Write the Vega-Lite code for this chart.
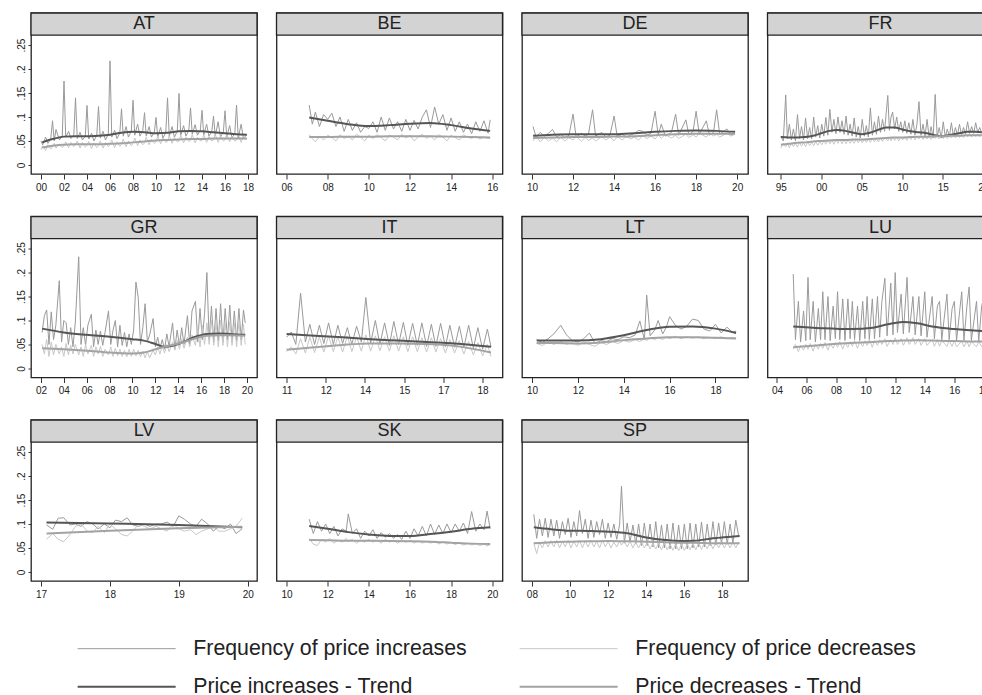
{
"$schema":"https://vega.github.io/schema/vega-lite/v6.json",
"padding":{"left":12,"top":11,"right":0,"bottom":0},
"columns":4,
"spacing":{"row":42.5,"column":19.5},
"bounds":"flush",
"resolve":{"scale":{"x":"independent","y":"independent","color":"shared","strokeWidth":"shared"}},
"config":{
 "font":"Liberation Sans",
 "view":{"stroke":"#222","strokeWidth":1.3},
 "axis":{"labelFont":"Liberation Sans","labelFontSize":10,"labelColor":"#222","tickColor":"#333","grid":false,"domain":false,"labelOverlap":false,"labelFlush":false},
 "legend":{"orient":"none","legendX":41,"legendY":625,"direction":"horizontal","columns":2,"symbolType":"M-1,0H18.6","symbolSize":100,"labelFontSize":21.3,"labelFont":"Liberation Sans","labelColor":"#222","labelLimit":0,"columnPadding":47,"rowPadding":16,"labelOffset":100,"padding":0},
 "text":{"font":"Liberation Sans","fontSize":18,"color":"#222"}
},
"datasets":{
"AT":[{"t":2000.0,"i":0.05,"d":0.032},{"t":2000.15,"i":0.042,"d":0.04},{"t":2000.4,"i":0.058,"d":0.03},{"t":2000.6,"i":0.045,"d":0.042},{"t":2000.85,"i":0.055,"d":0.033},{"t":2001.0,"i":0.092,"d":0.038},{"t":2001.15,"i":0.05,"d":0.045},{"t":2001.3,"i":0.074,"d":0.035},{"t":2001.6,"i":0.052,"d":0.044},{"t":2001.85,"i":0.06,"d":0.036},{"t":2002.0,"i":0.175,"d":0.04},{"t":2002.15,"i":0.058,"d":0.048},{"t":2002.4,"i":0.07,"d":0.036},{"t":2002.6,"i":0.055,"d":0.047},{"t":2002.85,"i":0.062,"d":0.038},{"t":2003.0,"i":0.14,"d":0.042},{"t":2003.15,"i":0.055,"d":0.05},{"t":2003.4,"i":0.068,"d":0.035},{"t":2003.6,"i":0.052,"d":0.047},{"t":2003.85,"i":0.06,"d":0.037},{"t":2004.0,"i":0.124,"d":0.041},{"t":2004.15,"i":0.054,"d":0.049},{"t":2004.4,"i":0.066,"d":0.034},{"t":2004.6,"i":0.05,"d":0.046},{"t":2004.85,"i":0.062,"d":0.036},{"t":2005.0,"i":0.122,"d":0.04},{"t":2005.15,"i":0.056,"d":0.05},{"t":2005.4,"i":0.07,"d":0.035},{"t":2005.6,"i":0.052,"d":0.047},{"t":2005.85,"i":0.064,"d":0.038},{"t":2006.0,"i":0.217,"d":0.042},{"t":2006.15,"i":0.058,"d":0.052},{"t":2006.4,"i":0.072,"d":0.036},{"t":2006.6,"i":0.055,"d":0.048},{"t":2006.85,"i":0.066,"d":0.039},{"t":2007.0,"i":0.117,"d":0.043},{"t":2007.15,"i":0.06,"d":0.054},{"t":2007.4,"i":0.08,"d":0.038},{"t":2007.6,"i":0.058,"d":0.05},{"t":2007.85,"i":0.07,"d":0.04},{"t":2008.0,"i":0.135,"d":0.045},{"t":2008.15,"i":0.062,"d":0.056},{"t":2008.4,"i":0.085,"d":0.04},{"t":2008.6,"i":0.06,"d":0.052},{"t":2008.85,"i":0.072,"d":0.042},{"t":2009.0,"i":0.109,"d":0.046},{"t":2009.15,"i":0.06,"d":0.058},{"t":2009.4,"i":0.08,"d":0.042},{"t":2009.6,"i":0.058,"d":0.054},{"t":2009.85,"i":0.068,"d":0.045},{"t":2010.0,"i":0.099,"d":0.048},{"t":2010.15,"i":0.058,"d":0.06},{"t":2010.4,"i":0.078,"d":0.044},{"t":2010.6,"i":0.056,"d":0.056},{"t":2010.85,"i":0.068,"d":0.047},{"t":2011.0,"i":0.14,"d":0.049},{"t":2011.15,"i":0.06,"d":0.061},{"t":2011.4,"i":0.08,"d":0.045},{"t":2011.6,"i":0.058,"d":0.057},{"t":2011.85,"i":0.07,"d":0.048},{"t":2012.0,"i":0.149,"d":0.05},{"t":2012.15,"i":0.062,"d":0.062},{"t":2012.4,"i":0.082,"d":0.046},{"t":2012.6,"i":0.06,"d":0.058},{"t":2012.85,"i":0.072,"d":0.049},{"t":2013.0,"i":0.119,"d":0.051},{"t":2013.15,"i":0.064,"d":0.063},{"t":2013.4,"i":0.084,"d":0.046},{"t":2013.6,"i":0.062,"d":0.058},{"t":2013.85,"i":0.072,"d":0.05},{"t":2014.0,"i":0.114,"d":0.051},{"t":2014.15,"i":0.062,"d":0.063},{"t":2014.4,"i":0.085,"d":0.047},{"t":2014.6,"i":0.06,"d":0.059},{"t":2014.85,"i":0.07,"d":0.05},{"t":2015.0,"i":0.102,"d":0.052},{"t":2015.15,"i":0.06,"d":0.064},{"t":2015.4,"i":0.09,"d":0.047},{"t":2015.6,"i":0.058,"d":0.06},{"t":2015.85,"i":0.068,"d":0.05},{"t":2016.0,"i":0.113,"d":0.052},{"t":2016.15,"i":0.058,"d":0.064},{"t":2016.4,"i":0.082,"d":0.048},{"t":2016.6,"i":0.056,"d":0.06},{"t":2016.85,"i":0.066,"d":0.05},{"t":2017.0,"i":0.125,"d":0.052},{"t":2017.15,"i":0.056,"d":0.064},{"t":2017.4,"i":0.085,"d":0.047},{"t":2017.6,"i":0.055,"d":0.06},{"t":2017.85,"i":0.062,"d":0.052}],
"AT_t":[{"t":2000.1,"ti":0.047,"td":0.036},{"t":2001,"ti":0.054,"td":0.04},{"t":2002,"ti":0.059,"td":0.042},{"t":2003,"ti":0.06,"td":0.043},{"t":2004,"ti":0.06,"td":0.043},{"t":2005,"ti":0.061,"td":0.043},{"t":2006,"ti":0.063,"td":0.044},{"t":2007,"ti":0.067,"td":0.045},{"t":2008,"ti":0.069,"td":0.047},{"t":2009,"ti":0.068,"td":0.049},{"t":2010,"ti":0.066,"td":0.051},{"t":2011,"ti":0.067,"td":0.052},{"t":2012,"ti":0.07,"td":0.053},{"t":2013,"ti":0.071,"td":0.054},{"t":2014,"ti":0.07,"td":0.054},{"t":2015,"ti":0.068,"td":0.055},{"t":2016,"ti":0.066,"td":0.055},{"t":2017,"ti":0.064,"td":0.055},{"t":2017.9,"ti":0.063,"td":0.055}],
"BE":[{"t":2007.1,"i":0.125,"d":0.063},{"t":2007.25,"i":0.085,"d":0.055},{"t":2007.4,"i":0.11,"d":0.048},{"t":2007.6,"i":0.08,"d":0.06},{"t":2007.8,"i":0.105,"d":0.052},{"t":2008.0,"i":0.095,"d":0.062},{"t":2008.2,"i":0.108,"d":0.057},{"t":2008.4,"i":0.08,"d":0.05},{"t":2008.6,"i":0.1,"d":0.063},{"t":2008.8,"i":0.07,"d":0.055},{"t":2009.0,"i":0.095,"d":0.06},{"t":2009.2,"i":0.072,"d":0.052},{"t":2009.4,"i":0.088,"d":0.064},{"t":2009.6,"i":0.068,"d":0.058},{"t":2009.8,"i":0.08,"d":0.05},{"t":2010.0,"i":0.076,"d":0.062},{"t":2010.2,"i":0.09,"d":0.055},{"t":2010.4,"i":0.068,"d":0.063},{"t":2010.6,"i":0.1,"d":0.057},{"t":2010.8,"i":0.072,"d":0.05},{"t":2011.0,"i":0.098,"d":0.062},{"t":2011.2,"i":0.075,"d":0.058},{"t":2011.4,"i":0.09,"d":0.052},{"t":2011.6,"i":0.07,"d":0.064},{"t":2011.8,"i":0.095,"d":0.056},{"t":2012.0,"i":0.072,"d":0.062},{"t":2012.2,"i":0.093,"d":0.05},{"t":2012.4,"i":0.075,"d":0.058},{"t":2012.6,"i":0.1,"d":0.064},{"t":2012.8,"i":0.115,"d":0.055},{"t":2013.0,"i":0.078,"d":0.06},{"t":2013.2,"i":0.121,"d":0.052},{"t":2013.4,"i":0.085,"d":0.063},{"t":2013.6,"i":0.105,"d":0.058},{"t":2013.8,"i":0.072,"d":0.05},{"t":2014.0,"i":0.098,"d":0.062},{"t":2014.2,"i":0.07,"d":0.057},{"t":2014.4,"i":0.09,"d":0.052},{"t":2014.6,"i":0.068,"d":0.063},{"t":2014.8,"i":0.085,"d":0.058},{"t":2015.0,"i":0.065,"d":0.055},{"t":2015.2,"i":0.09,"d":0.06},{"t":2015.4,"i":0.07,"d":0.054},{"t":2015.6,"i":0.092,"d":0.058},{"t":2015.8,"i":0.066,"d":0.055},{"t":2015.9,"i":0.094,"d":0.056}],
"BE_t":[{"t":2007.1,"ti":0.099,"td":0.058},{"t":2008,"ti":0.092,"td":0.058},{"t":2009,"ti":0.085,"td":0.059},{"t":2010,"ti":0.081,"td":0.059},{"t":2011,"ti":0.083,"td":0.06},{"t":2012,"ti":0.086,"td":0.06},{"t":2013,"ti":0.0875,"td":0.06},{"t":2014,"ti":0.083,"td":0.059},{"t":2015,"ti":0.076,"td":0.058},{"t":2015.9,"ti":0.071,"td":0.057}],
"DE":[{"t":2010.05,"i":0.08,"d":0.05},{"t":2010.2,"i":0.058,"d":0.06},{"t":2010.4,"i":0.068,"d":0.048},{"t":2010.6,"i":0.06,"d":0.058},{"t":2010.8,"i":0.066,"d":0.05},{"t":2011.0,"i":0.074,"d":0.056},{"t":2011.2,"i":0.058,"d":0.048},{"t":2011.4,"i":0.064,"d":0.058},{"t":2011.6,"i":0.056,"d":0.05},{"t":2011.8,"i":0.062,"d":0.057},{"t":2012.0,"i":0.106,"d":0.052},{"t":2012.15,"i":0.058,"d":0.06},{"t":2012.4,"i":0.066,"d":0.049},{"t":2012.6,"i":0.06,"d":0.058},{"t":2012.75,"i":0.064,"d":0.051},{"t":2012.95,"i":0.115,"d":0.056},{"t":2013.1,"i":0.06,"d":0.05},{"t":2013.4,"i":0.068,"d":0.059},{"t":2013.6,"i":0.058,"d":0.052},{"t":2013.8,"i":0.062,"d":0.058},{"t":2014.0,"i":0.102,"d":0.05},{"t":2014.15,"i":0.06,"d":0.059},{"t":2014.4,"i":0.064,"d":0.052},{"t":2014.6,"i":0.058,"d":0.06},{"t":2014.8,"i":0.062,"d":0.054},{"t":2015.0,"i":0.066,"d":0.058},{"t":2015.2,"i":0.072,"d":0.052},{"t":2015.4,"i":0.07,"d":0.061},{"t":2015.6,"i":0.062,"d":0.055},{"t":2015.8,"i":0.066,"d":0.06},{"t":2016.0,"i":0.112,"d":0.054},{"t":2016.15,"i":0.062,"d":0.062},{"t":2016.3,"i":0.085,"d":0.056},{"t":2016.5,"i":0.06,"d":0.063},{"t":2016.8,"i":0.068,"d":0.056},{"t":2017.0,"i":0.106,"d":0.062},{"t":2017.15,"i":0.062,"d":0.055},{"t":2017.5,"i":0.094,"d":0.064},{"t":2017.65,"i":0.062,"d":0.057},{"t":2017.85,"i":0.07,"d":0.063},{"t":2018.0,"i":0.112,"d":0.058},{"t":2018.15,"i":0.064,"d":0.066},{"t":2018.5,"i":0.092,"d":0.058},{"t":2018.65,"i":0.062,"d":0.066},{"t":2018.85,"i":0.068,"d":0.06},{"t":2019.0,"i":0.115,"d":0.064},{"t":2019.15,"i":0.064,"d":0.058},{"t":2019.5,"i":0.075,"d":0.066},{"t":2019.7,"i":0.062,"d":0.06},{"t":2019.9,"i":0.068,"d":0.064}],
"DE_t":[{"t":2010.05,"ti":0.061,"td":0.056},{"t":2011,"ti":0.063,"td":0.057},{"t":2012,"ti":0.064,"td":0.058},{"t":2013,"ti":0.064,"td":0.058},{"t":2014,"ti":0.064,"td":0.059},{"t":2015,"ti":0.066,"td":0.06},{"t":2016,"ti":0.069,"td":0.062},{"t":2017,"ti":0.071,"td":0.064},{"t":2018,"ti":0.072,"td":0.065},{"t":2019,"ti":0.071,"td":0.065},{"t":2019.9,"ti":0.069,"td":0.065}],
"FR":[{"t":1995.0,"i":0.06,"d":0.035},{"t":1995.3,"i":0.05,"d":0.045},{"t":1995.6,"i":0.146,"d":0.038},{"t":1995.8,"i":0.055,"d":0.046},{"t":1996.05,"i":0.085,"d":0.036},{"t":1996.3,"i":0.052,"d":0.046},{"t":1996.55,"i":0.075,"d":0.038},{"t":1996.8,"i":0.05,"d":0.045},{"t":1997.05,"i":0.105,"d":0.037},{"t":1997.3,"i":0.055,"d":0.047},{"t":1997.55,"i":0.08,"d":0.039},{"t":1997.8,"i":0.052,"d":0.046},{"t":1998.05,"i":0.098,"d":0.038},{"t":1998.3,"i":0.055,"d":0.048},{"t":1998.55,"i":0.078,"d":0.04},{"t":1998.8,"i":0.054,"d":0.047},{"t":1999.05,"i":0.1,"d":0.04},{"t":1999.3,"i":0.058,"d":0.049},{"t":1999.55,"i":0.082,"d":0.041},{"t":1999.8,"i":0.056,"d":0.048},{"t":2000.05,"i":0.085,"d":0.042},{"t":2000.3,"i":0.06,"d":0.05},{"t":2000.55,"i":0.099,"d":0.043},{"t":2000.8,"i":0.062,"d":0.052},{"t":2001.05,"i":0.116,"d":0.044},{"t":2001.3,"i":0.068,"d":0.052},{"t":2001.55,"i":0.095,"d":0.043},{"t":2001.8,"i":0.065,"d":0.053},{"t":2002.05,"i":0.1,"d":0.045},{"t":2002.3,"i":0.068,"d":0.054},{"t":2002.55,"i":0.092,"d":0.044},{"t":2002.8,"i":0.064,"d":0.052},{"t":2003.05,"i":0.102,"d":0.044},{"t":2003.3,"i":0.062,"d":0.053},{"t":2003.55,"i":0.085,"d":0.045},{"t":2003.8,"i":0.06,"d":0.052},{"t":2004.05,"i":0.098,"d":0.045},{"t":2004.3,"i":0.058,"d":0.054},{"t":2004.55,"i":0.08,"d":0.046},{"t":2004.8,"i":0.056,"d":0.053},{"t":2005.05,"i":0.095,"d":0.046},{"t":2005.3,"i":0.06,"d":0.055},{"t":2005.55,"i":0.082,"d":0.047},{"t":2005.8,"i":0.058,"d":0.054},{"t":2006.05,"i":0.119,"d":0.047},{"t":2006.3,"i":0.062,"d":0.056},{"t":2006.55,"i":0.09,"d":0.048},{"t":2006.8,"i":0.064,"d":0.055},{"t":2007.05,"i":0.102,"d":0.048},{"t":2007.3,"i":0.068,"d":0.057},{"t":2007.55,"i":0.095,"d":0.049},{"t":2007.8,"i":0.07,"d":0.058},{"t":2008.2,"i":0.145,"d":0.05},{"t":2008.4,"i":0.072,"d":0.058},{"t":2008.6,"i":0.1,"d":0.05},{"t":2008.8,"i":0.11,"d":0.059},{"t":2009.05,"i":0.075,"d":0.051},{"t":2009.3,"i":0.1,"d":0.058},{"t":2009.55,"i":0.07,"d":0.05},{"t":2009.8,"i":0.09,"d":0.058},{"t":2010.05,"i":0.068,"d":0.052},{"t":2010.3,"i":0.092,"d":0.059},{"t":2010.55,"i":0.066,"d":0.051},{"t":2010.8,"i":0.088,"d":0.06},{"t":2011.05,"i":0.064,"d":0.053},{"t":2011.3,"i":0.095,"d":0.06},{"t":2011.55,"i":0.062,"d":0.052},{"t":2011.8,"i":0.085,"d":0.06},{"t":2012.05,"i":0.132,"d":0.054},{"t":2012.3,"i":0.062,"d":0.061},{"t":2012.55,"i":0.085,"d":0.053},{"t":2012.8,"i":0.06,"d":0.06},{"t":2013.05,"i":0.095,"d":0.054},{"t":2013.3,"i":0.058,"d":0.061},{"t":2013.55,"i":0.08,"d":0.053},{"t":2013.8,"i":0.056,"d":0.06},{"t":2014.05,"i":0.147,"d":0.055},{"t":2014.3,"i":0.058,"d":0.062},{"t":2014.55,"i":0.078,"d":0.054},{"t":2014.8,"i":0.056,"d":0.061},{"t":2015.05,"i":0.09,"d":0.055},{"t":2015.3,"i":0.058,"d":0.062},{"t":2015.55,"i":0.075,"d":0.055},{"t":2015.8,"i":0.058,"d":0.062},{"t":2016.05,"i":0.088,"d":0.056},{"t":2016.3,"i":0.06,"d":0.063},{"t":2016.55,"i":0.078,"d":0.056},{"t":2016.8,"i":0.062,"d":0.063},{"t":2017.05,"i":0.085,"d":0.057},{"t":2017.3,"i":0.062,"d":0.064},{"t":2017.55,"i":0.078,"d":0.057},{"t":2017.8,"i":0.064,"d":0.064},{"t":2018.05,"i":0.09,"d":0.058},{"t":2018.3,"i":0.066,"d":0.065},{"t":2018.55,"i":0.08,"d":0.058},{"t":2018.8,"i":0.066,"d":0.065},{"t":2019.05,"i":0.088,"d":0.059},{"t":2019.3,"i":0.068,"d":0.065},{"t":2019.55,"i":0.078,"d":0.059},{"t":2019.8,"i":0.066,"d":0.064}],
"FR_t":[{"t":1995,"ti":0.058,"td":0.042},{"t":1996,"ti":0.057,"td":0.044},{"t":1997,"ti":0.057,"td":0.046},{"t":1998,"ti":0.058,"td":0.047},{"t":1999,"ti":0.061,"td":0.049},{"t":2000,"ti":0.066,"td":0.05},{"t":2001,"ti":0.071,"td":0.051},{"t":2002,"ti":0.073,"td":0.052},{"t":2003,"ti":0.071,"td":0.052},{"t":2004,"ti":0.067,"td":0.053},{"t":2005,"ti":0.064,"td":0.053},{"t":2006,"ti":0.067,"td":0.054},{"t":2007,"ti":0.073,"td":0.055},{"t":2008,"ti":0.078,"td":0.056},{"t":2009,"ti":0.078,"td":0.057},{"t":2010,"ti":0.074,"td":0.057},{"t":2011,"ti":0.07,"td":0.058},{"t":2012,"ti":0.068,"td":0.059},{"t":2013,"ti":0.066,"td":0.059},{"t":2014,"ti":0.062,"td":0.06},{"t":2015,"ti":0.06,"td":0.06},{"t":2016,"ti":0.063,"td":0.061},{"t":2017,"ti":0.066,"td":0.061},{"t":2018,"ti":0.069,"td":0.062},{"t":2019,"ti":0.069,"td":0.062},{"t":2019.8,"ti":0.068,"td":0.062}],
"GR":[{"t":2002.1,"i":0.075,"d":0.05},{"t":2002.3,"i":0.11,"d":0.03},{"t":2002.5,"i":0.122,"d":0.06},{"t":2002.7,"i":0.05,"d":0.025},{"t":2002.9,"i":0.118,"d":0.055},{"t":2003.1,"i":0.06,"d":0.028},{"t":2003.3,"i":0.09,"d":0.05},{"t":2003.6,"i":0.183,"d":0.03},{"t":2003.8,"i":0.055,"d":0.045},{"t":2004.0,"i":0.1,"d":0.025},{"t":2004.2,"i":0.095,"d":0.052},{"t":2004.4,"i":0.05,"d":0.028},{"t":2004.6,"i":0.085,"d":0.048},{"t":2004.8,"i":0.045,"d":0.03},{"t":2005.0,"i":0.095,"d":0.05},{"t":2005.3,"i":0.233,"d":0.028},{"t":2005.5,"i":0.05,"d":0.045},{"t":2005.7,"i":0.085,"d":0.025},{"t":2005.9,"i":0.048,"d":0.05},{"t":2006.1,"i":0.09,"d":0.03},{"t":2006.4,"i":0.113,"d":0.048},{"t":2006.6,"i":0.045,"d":0.025},{"t":2006.8,"i":0.08,"d":0.045},{"t":2007.0,"i":0.05,"d":0.03},{"t":2007.2,"i":0.078,"d":0.046},{"t":2007.4,"i":0.048,"d":0.025},{"t":2007.6,"i":0.075,"d":0.04},{"t":2007.9,"i":0.12,"d":0.028},{"t":2008.1,"i":0.05,"d":0.045},{"t":2008.3,"i":0.08,"d":0.025},{"t":2008.5,"i":0.1,"d":0.042},{"t":2008.7,"i":0.045,"d":0.026},{"t":2008.9,"i":0.09,"d":0.04},{"t":2009.1,"i":0.048,"d":0.025},{"t":2009.3,"i":0.075,"d":0.038},{"t":2009.5,"i":0.045,"d":0.024},{"t":2009.7,"i":0.072,"d":0.04},{"t":2009.9,"i":0.05,"d":0.025},{"t":2010.1,"i":0.08,"d":0.04},{"t":2010.3,"i":0.18,"d":0.026},{"t":2010.5,"i":0.148,"d":0.038},{"t":2010.7,"i":0.05,"d":0.024},{"t":2010.9,"i":0.085,"d":0.036},{"t":2011.1,"i":0.135,"d":0.022},{"t":2011.3,"i":0.055,"d":0.035},{"t":2011.5,"i":0.07,"d":0.022},{"t":2011.8,"i":0.104,"d":0.038},{"t":2012.0,"i":0.045,"d":0.028},{"t":2012.2,"i":0.065,"d":0.045},{"t":2012.4,"i":0.042,"d":0.03},{"t":2012.6,"i":0.06,"d":0.048},{"t":2012.8,"i":0.04,"d":0.032},{"t":2013.0,"i":0.072,"d":0.05},{"t":2013.2,"i":0.045,"d":0.035},{"t":2013.5,"i":0.095,"d":0.055},{"t":2013.7,"i":0.04,"d":0.038},{"t":2013.9,"i":0.08,"d":0.058},{"t":2014.1,"i":0.048,"d":0.04},{"t":2014.3,"i":0.085,"d":0.062},{"t":2014.5,"i":0.05,"d":0.042},{"t":2014.8,"i":0.11,"d":0.065},{"t":2015.0,"i":0.05,"d":0.045},{"t":2015.2,"i":0.12,"d":0.07},{"t":2015.5,"i":0.14,"d":0.048},{"t":2015.7,"i":0.055,"d":0.085},{"t":2015.9,"i":0.125,"d":0.045},{"t":2016.1,"i":0.06,"d":0.09},{"t":2016.3,"i":0.115,"d":0.05},{"t":2016.5,"i":0.2,"d":0.095},{"t":2016.7,"i":0.06,"d":0.05},{"t":2016.9,"i":0.13,"d":0.1},{"t":2017.1,"i":0.055,"d":0.048},{"t":2017.3,"i":0.125,"d":0.095},{"t":2017.5,"i":0.058,"d":0.045},{"t":2017.7,"i":0.135,"d":0.1},{"t":2017.9,"i":0.055,"d":0.048},{"t":2018.1,"i":0.125,"d":0.095},{"t":2018.3,"i":0.06,"d":0.045},{"t":2018.5,"i":0.132,"d":0.098},{"t":2018.7,"i":0.055,"d":0.048},{"t":2018.9,"i":0.12,"d":0.095},{"t":2019.1,"i":0.058,"d":0.045},{"t":2019.3,"i":0.125,"d":0.098},{"t":2019.5,"i":0.06,"d":0.048},{"t":2019.7,"i":0.122,"d":0.092},{"t":2019.85,"i":0.095,"d":0.05}],
"GR_t":[{"t":2002.1,"ti":0.083,"td":0.042},{"t":2004,"ti":0.075,"td":0.04},{"t":2006,"ti":0.07,"td":0.037},{"t":2008,"ti":0.066,"td":0.033},{"t":2010,"ti":0.061,"td":0.031},{"t":2011,"ti":0.058,"td":0.033},{"t":2012,"ti":0.051,"td":0.04},{"t":2012.8,"ti":0.045,"td":0.045},{"t":2013.5,"ti":0.047,"td":0.049},{"t":2014.5,"ti":0.056,"td":0.055},{"t":2015.5,"ti":0.066,"td":0.063},{"t":2016.5,"ti":0.072,"td":0.068},{"t":2017.5,"ti":0.073,"td":0.069},{"t":2018.5,"ti":0.072,"td":0.069},{"t":2019.85,"ti":0.07,"td":0.068}],
"IT":[{"t":2011.0,"i":0.065,"d":0.035},{"t":2011.17,"i":0.076,"d":0.045},{"t":2011.33,"i":0.05,"d":0.03},{"t":2011.5,"i":0.157,"d":0.062},{"t":2011.67,"i":0.055,"d":0.032},{"t":2011.83,"i":0.092,"d":0.065},{"t":2012.0,"i":0.05,"d":0.033},{"t":2012.17,"i":0.09,"d":0.066},{"t":2012.33,"i":0.052,"d":0.034},{"t":2012.5,"i":0.095,"d":0.068},{"t":2012.67,"i":0.05,"d":0.035},{"t":2012.83,"i":0.09,"d":0.066},{"t":2013.0,"i":0.052,"d":0.034},{"t":2013.17,"i":0.085,"d":0.068},{"t":2013.33,"i":0.05,"d":0.035},{"t":2013.5,"i":0.088,"d":0.066},{"t":2013.67,"i":0.055,"d":0.036},{"t":2013.83,"i":0.148,"d":0.07},{"t":2014.0,"i":0.052,"d":0.036},{"t":2014.17,"i":0.1,"d":0.068},{"t":2014.33,"i":0.05,"d":0.037},{"t":2014.5,"i":0.095,"d":0.066},{"t":2014.67,"i":0.048,"d":0.036},{"t":2014.83,"i":0.098,"d":0.068},{"t":2015.0,"i":0.05,"d":0.036},{"t":2015.17,"i":0.096,"d":0.066},{"t":2015.33,"i":0.048,"d":0.035},{"t":2015.5,"i":0.094,"d":0.066},{"t":2015.67,"i":0.048,"d":0.035},{"t":2015.83,"i":0.095,"d":0.064},{"t":2016.0,"i":0.046,"d":0.034},{"t":2016.17,"i":0.092,"d":0.064},{"t":2016.33,"i":0.046,"d":0.034},{"t":2016.5,"i":0.094,"d":0.062},{"t":2016.67,"i":0.045,"d":0.032},{"t":2016.83,"i":0.09,"d":0.06},{"t":2017.0,"i":0.044,"d":0.032},{"t":2017.17,"i":0.088,"d":0.058},{"t":2017.33,"i":0.043,"d":0.03},{"t":2017.5,"i":0.09,"d":0.056},{"t":2017.67,"i":0.042,"d":0.028},{"t":2017.83,"i":0.085,"d":0.054},{"t":2018.0,"i":0.04,"d":0.026},{"t":2018.17,"i":0.082,"d":0.05},{"t":2018.3,"i":0.045,"d":0.025}],
"IT_t":[{"t":2011,"ti":0.072,"td":0.039},{"t":2012,"ti":0.068,"td":0.044},{"t":2013,"ti":0.065,"td":0.049},{"t":2014,"ti":0.061,"td":0.052},{"t":2015,"ti":0.058,"td":0.052},{"t":2016,"ti":0.055,"td":0.051},{"t":2017,"ti":0.052,"td":0.047},{"t":2018.3,"ti":0.045,"td":0.033}],
"LT":[{"t":2010.2,"i":0.06,"d":0.052},{"t":2010.45,"i":0.054,"d":0.048},{"t":2010.7,"i":0.062,"d":0.055},{"t":2010.95,"i":0.072,"d":0.05},{"t":2011.25,"i":0.09,"d":0.056},{"t":2011.5,"i":0.07,"d":0.05},{"t":2011.75,"i":0.058,"d":0.054},{"t":2012.0,"i":0.055,"d":0.048},{"t":2012.25,"i":0.062,"d":0.055},{"t":2012.5,"i":0.074,"d":0.05},{"t":2012.75,"i":0.052,"d":0.046},{"t":2013.0,"i":0.058,"d":0.054},{"t":2013.25,"i":0.056,"d":0.05},{"t":2013.5,"i":0.062,"d":0.056},{"t":2013.75,"i":0.06,"d":0.052},{"t":2014.0,"i":0.066,"d":0.058},{"t":2014.25,"i":0.064,"d":0.055},{"t":2014.5,"i":0.07,"d":0.06},{"t":2014.7,"i":0.099,"d":0.056},{"t":2014.9,"i":0.06,"d":0.062},{"t":2015.0,"i":0.153,"d":0.058},{"t":2015.15,"i":0.068,"d":0.064},{"t":2015.35,"i":0.08,"d":0.06},{"t":2015.5,"i":0.1,"d":0.065},{"t":2015.7,"i":0.072,"d":0.06},{"t":2015.85,"i":0.085,"d":0.066},{"t":2016.0,"i":0.108,"d":0.062},{"t":2016.25,"i":0.09,"d":0.067},{"t":2016.5,"i":0.082,"d":0.062},{"t":2016.75,"i":0.088,"d":0.066},{"t":2017.0,"i":0.103,"d":0.063},{"t":2017.25,"i":0.1,"d":0.066},{"t":2017.5,"i":0.082,"d":0.062},{"t":2017.75,"i":0.078,"d":0.065},{"t":2018.0,"i":0.092,"d":0.062},{"t":2018.25,"i":0.074,"d":0.066},{"t":2018.5,"i":0.086,"d":0.062},{"t":2018.75,"i":0.075,"d":0.065},{"t":2018.9,"i":0.078,"d":0.063}],
"LT_t":[{"t":2010.2,"ti":0.058,"td":0.053},{"t":2011,"ti":0.058,"td":0.053},{"t":2012,"ti":0.058,"td":0.052},{"t":2013,"ti":0.061,"td":0.054},{"t":2014,"ti":0.069,"td":0.059},{"t":2015,"ti":0.08,"td":0.0625},{"t":2016,"ti":0.087,"td":0.065},{"t":2017,"ti":0.0875,"td":0.065},{"t":2018,"ti":0.083,"td":0.064},{"t":2018.9,"ti":0.074,"td":0.0625}],
"LU":[{"t":2005.1,"i":0.197,"d":0.04},{"t":2005.25,"i":0.06,"d":0.05},{"t":2005.45,"i":0.14,"d":0.035},{"t":2005.6,"i":0.055,"d":0.048},{"t":2005.8,"i":0.12,"d":0.038},{"t":2005.95,"i":0.058,"d":0.05},{"t":2006.1,"i":0.19,"d":0.04},{"t":2006.25,"i":0.06,"d":0.052},{"t":2006.45,"i":0.14,"d":0.036},{"t":2006.6,"i":0.055,"d":0.05},{"t":2006.8,"i":0.125,"d":0.04},{"t":2006.95,"i":0.06,"d":0.052},{"t":2007.1,"i":0.16,"d":0.042},{"t":2007.25,"i":0.06,"d":0.054},{"t":2007.45,"i":0.15,"d":0.038},{"t":2007.6,"i":0.058,"d":0.052},{"t":2007.8,"i":0.13,"d":0.042},{"t":2007.95,"i":0.062,"d":0.054},{"t":2008.1,"i":0.16,"d":0.044},{"t":2008.25,"i":0.06,"d":0.056},{"t":2008.45,"i":0.145,"d":0.04},{"t":2008.6,"i":0.058,"d":0.054},{"t":2008.8,"i":0.145,"d":0.044},{"t":2008.95,"i":0.062,"d":0.056},{"t":2009.1,"i":0.14,"d":0.046},{"t":2009.25,"i":0.06,"d":0.058},{"t":2009.45,"i":0.13,"d":0.042},{"t":2009.6,"i":0.058,"d":0.056},{"t":2009.8,"i":0.14,"d":0.046},{"t":2009.95,"i":0.062,"d":0.058},{"t":2010.1,"i":0.15,"d":0.048},{"t":2010.25,"i":0.06,"d":0.06},{"t":2010.45,"i":0.145,"d":0.044},{"t":2010.6,"i":0.062,"d":0.058},{"t":2010.8,"i":0.15,"d":0.048},{"t":2010.95,"i":0.065,"d":0.06},{"t":2011.1,"i":0.14,"d":0.05},{"t":2011.3,"i":0.188,"d":0.062},{"t":2011.45,"i":0.068,"d":0.046},{"t":2011.7,"i":0.178,"d":0.06},{"t":2011.85,"i":0.07,"d":0.05},{"t":2012.0,"i":0.2,"d":0.064},{"t":2012.15,"i":0.075,"d":0.05},{"t":2012.4,"i":0.155,"d":0.062},{"t":2012.55,"i":0.072,"d":0.048},{"t":2012.8,"i":0.19,"d":0.064},{"t":2012.95,"i":0.075,"d":0.05},{"t":2013.2,"i":0.15,"d":0.064},{"t":2013.35,"i":0.07,"d":0.05},{"t":2013.6,"i":0.15,"d":0.062},{"t":2013.75,"i":0.068,"d":0.048},{"t":2014.0,"i":0.16,"d":0.062},{"t":2014.15,"i":0.065,"d":0.048},{"t":2014.5,"i":0.15,"d":0.06},{"t":2014.65,"i":0.062,"d":0.046},{"t":2014.85,"i":0.13,"d":0.06},{"t":2015.0,"i":0.14,"d":0.046},{"t":2015.15,"i":0.06,"d":0.058},{"t":2015.5,"i":0.155,"d":0.046},{"t":2015.65,"i":0.06,"d":0.058},{"t":2015.85,"i":0.125,"d":0.046},{"t":2016.0,"i":0.14,"d":0.058},{"t":2016.15,"i":0.058,"d":0.045},{"t":2016.5,"i":0.16,"d":0.057},{"t":2016.65,"i":0.058,"d":0.045},{"t":2016.85,"i":0.13,"d":0.057},{"t":2017.0,"i":0.17,"d":0.045},{"t":2017.15,"i":0.058,"d":0.056},{"t":2017.5,"i":0.14,"d":0.045},{"t":2017.65,"i":0.056,"d":0.056},{"t":2017.85,"i":0.13,"d":0.045},{"t":2018.0,"i":0.15,"d":0.056},{"t":2018.15,"i":0.056,"d":0.045},{"t":2018.5,"i":0.14,"d":0.056},{"t":2018.65,"i":0.058,"d":0.045},{"t":2018.9,"i":0.15,"d":0.055}],
"LU_t":[{"t":2005.1,"ti":0.0875,"td":0.044},{"t":2007,"ti":0.084,"td":0.049},{"t":2009,"ti":0.082,"td":0.053},{"t":2010.5,"ti":0.085,"td":0.055},{"t":2011.5,"ti":0.092,"td":0.057},{"t":2012.5,"ti":0.097,"td":0.058},{"t":2013.5,"ti":0.094,"td":0.059},{"t":2014.5,"ti":0.0875,"td":0.058},{"t":2016,"ti":0.082,"td":0.057},{"t":2018,"ti":0.078,"td":0.056},{"t":2018.9,"ti":0.077,"td":0.056}],
"LV":[{"t":2017.08,"i":0.098,"d":0.068},{"t":2017.17,"i":0.089,"d":0.08},{"t":2017.25,"i":0.112,"d":0.068},{"t":2017.33,"i":0.113,"d":0.063},{"t":2017.42,"i":0.098,"d":0.078},{"t":2017.5,"i":0.1,"d":0.095},{"t":2017.58,"i":0.095,"d":0.1},{"t":2017.67,"i":0.105,"d":0.085},{"t":2017.75,"i":0.1,"d":0.082},{"t":2017.83,"i":0.09,"d":0.095},{"t":2017.92,"i":0.1,"d":0.082},{"t":2018.0,"i":0.092,"d":0.1},{"t":2018.08,"i":0.108,"d":0.09},{"t":2018.17,"i":0.105,"d":0.078},{"t":2018.25,"i":0.113,"d":0.075},{"t":2018.33,"i":0.098,"d":0.085},{"t":2018.42,"i":0.095,"d":0.1},{"t":2018.5,"i":0.1,"d":0.095},{"t":2018.58,"i":0.095,"d":0.09},{"t":2018.67,"i":0.1,"d":0.095},{"t":2018.75,"i":0.1,"d":0.09},{"t":2018.83,"i":0.104,"d":0.085},{"t":2018.92,"i":0.095,"d":0.1},{"t":2019.0,"i":0.117,"d":0.09},{"t":2019.08,"i":0.11,"d":0.085},{"t":2019.17,"i":0.1,"d":0.088},{"t":2019.25,"i":0.095,"d":0.078},{"t":2019.33,"i":0.11,"d":0.085},{"t":2019.42,"i":0.1,"d":0.09},{"t":2019.5,"i":0.085,"d":0.095},{"t":2019.58,"i":0.095,"d":0.085},{"t":2019.67,"i":0.09,"d":0.085},{"t":2019.75,"i":0.1,"d":0.09},{"t":2019.83,"i":0.08,"d":0.095},{"t":2019.92,"i":0.09,"d":0.112}],
"LV_t":[{"t":2017.08,"ti":0.103,"td":0.08},{"t":2018,"ti":0.101,"td":0.086},{"t":2019,"ti":0.098,"td":0.091},{"t":2019.92,"ti":0.093,"td":0.094}],
"SK":[{"t":2011.1,"i":0.11,"d":0.07},{"t":2011.3,"i":0.08,"d":0.058},{"t":2011.5,"i":0.105,"d":0.055},{"t":2011.7,"i":0.085,"d":0.068},{"t":2011.9,"i":0.1,"d":0.062},{"t":2012.1,"i":0.08,"d":0.07},{"t":2012.3,"i":0.095,"d":0.06},{"t":2012.5,"i":0.075,"d":0.066},{"t":2012.7,"i":0.09,"d":0.062},{"t":2012.9,"i":0.085,"d":0.07},{"t":2013.0,"i":0.121,"d":0.064},{"t":2013.2,"i":0.08,"d":0.068},{"t":2013.4,"i":0.09,"d":0.06},{"t":2013.6,"i":0.07,"d":0.066},{"t":2013.8,"i":0.085,"d":0.062},{"t":2014.0,"i":0.075,"d":0.068},{"t":2014.2,"i":0.088,"d":0.062},{"t":2014.4,"i":0.07,"d":0.066},{"t":2014.6,"i":0.082,"d":0.06},{"t":2014.8,"i":0.072,"d":0.068},{"t":2015.0,"i":0.08,"d":0.062},{"t":2015.2,"i":0.07,"d":0.066},{"t":2015.4,"i":0.078,"d":0.06},{"t":2015.6,"i":0.068,"d":0.066},{"t":2015.8,"i":0.085,"d":0.062},{"t":2016.0,"i":0.07,"d":0.066},{"t":2016.2,"i":0.09,"d":0.06},{"t":2016.4,"i":0.075,"d":0.065},{"t":2016.6,"i":0.095,"d":0.06},{"t":2016.8,"i":0.075,"d":0.064},{"t":2017.0,"i":0.1,"d":0.06},{"t":2017.2,"i":0.078,"d":0.064},{"t":2017.4,"i":0.098,"d":0.058},{"t":2017.6,"i":0.08,"d":0.063},{"t":2017.8,"i":0.1,"d":0.058},{"t":2018.0,"i":0.082,"d":0.062},{"t":2018.2,"i":0.1,"d":0.057},{"t":2018.4,"i":0.085,"d":0.061},{"t":2018.6,"i":0.102,"d":0.056},{"t":2018.8,"i":0.08,"d":0.06},{"t":2019.0,"i":0.126,"d":0.056},{"t":2019.2,"i":0.085,"d":0.059},{"t":2019.4,"i":0.1,"d":0.055},{"t":2019.6,"i":0.088,"d":0.058},{"t":2019.75,"i":0.127,"d":0.054},{"t":2019.9,"i":0.09,"d":0.057}],
"SK_t":[{"t":2011.1,"ti":0.096,"td":0.0667},{"t":2012,"ti":0.09,"td":0.066},{"t":2013,"ti":0.083,"td":0.065},{"t":2014,"ti":0.078,"td":0.065},{"t":2015,"ti":0.075,"td":0.0646},{"t":2016,"ti":0.075,"td":0.064},{"t":2017,"ti":0.079,"td":0.063},{"t":2018,"ti":0.084,"td":0.061},{"t":2019,"ti":0.09,"td":0.059},{"t":2019.9,"ti":0.093,"td":0.058}],
"SP":[{"t":2008.1,"i":0.12,"d":0.06},{"t":2008.25,"i":0.07,"d":0.038},{"t":2008.4,"i":0.11,"d":0.062},{"t":2008.55,"i":0.075,"d":0.05},{"t":2008.7,"i":0.112,"d":0.065},{"t":2008.85,"i":0.072,"d":0.052},{"t":2009.0,"i":0.11,"d":0.065},{"t":2009.15,"i":0.075,"d":0.052},{"t":2009.3,"i":0.108,"d":0.066},{"t":2009.45,"i":0.07,"d":0.05},{"t":2009.6,"i":0.105,"d":0.064},{"t":2009.75,"i":0.078,"d":0.052},{"t":2009.9,"i":0.112,"d":0.066},{"t":2010.05,"i":0.072,"d":0.05},{"t":2010.2,"i":0.105,"d":0.064},{"t":2010.35,"i":0.075,"d":0.052},{"t":2010.5,"i":0.128,"d":0.066},{"t":2010.65,"i":0.08,"d":0.05},{"t":2010.8,"i":0.11,"d":0.065},{"t":2010.95,"i":0.07,"d":0.052},{"t":2011.1,"i":0.108,"d":0.066},{"t":2011.25,"i":0.072,"d":0.052},{"t":2011.4,"i":0.105,"d":0.064},{"t":2011.55,"i":0.078,"d":0.05},{"t":2011.7,"i":0.11,"d":0.066},{"t":2011.85,"i":0.07,"d":0.052},{"t":2012.0,"i":0.102,"d":0.064},{"t":2012.15,"i":0.072,"d":0.05},{"t":2012.3,"i":0.1,"d":0.062},{"t":2012.45,"i":0.068,"d":0.052},{"t":2012.6,"i":0.098,"d":0.064},{"t":2012.7,"i":0.179,"d":0.056},{"t":2012.85,"i":0.06,"d":0.064},{"t":2013.0,"i":0.102,"d":0.052},{"t":2013.15,"i":0.062,"d":0.064},{"t":2013.3,"i":0.098,"d":0.05},{"t":2013.45,"i":0.058,"d":0.062},{"t":2013.6,"i":0.1,"d":0.05},{"t":2013.75,"i":0.055,"d":0.062},{"t":2013.9,"i":0.102,"d":0.05},{"t":2014.05,"i":0.055,"d":0.062},{"t":2014.2,"i":0.1,"d":0.048},{"t":2014.35,"i":0.052,"d":0.06},{"t":2014.5,"i":0.105,"d":0.048},{"t":2014.65,"i":0.05,"d":0.06},{"t":2014.8,"i":0.098,"d":0.046},{"t":2014.95,"i":0.05,"d":0.06},{"t":2015.1,"i":0.1,"d":0.046},{"t":2015.25,"i":0.048,"d":0.058},{"t":2015.4,"i":0.102,"d":0.045},{"t":2015.55,"i":0.048,"d":0.058},{"t":2015.7,"i":0.098,"d":0.044},{"t":2015.85,"i":0.048,"d":0.058},{"t":2016.0,"i":0.1,"d":0.045},{"t":2016.15,"i":0.048,"d":0.058},{"t":2016.3,"i":0.102,"d":0.046},{"t":2016.45,"i":0.05,"d":0.06},{"t":2016.6,"i":0.1,"d":0.046},{"t":2016.75,"i":0.052,"d":0.06},{"t":2016.9,"i":0.104,"d":0.047},{"t":2017.05,"i":0.052,"d":0.06},{"t":2017.2,"i":0.1,"d":0.048},{"t":2017.35,"i":0.055,"d":0.062},{"t":2017.5,"i":0.105,"d":0.048},{"t":2017.65,"i":0.056,"d":0.062},{"t":2017.8,"i":0.102,"d":0.05},{"t":2017.95,"i":0.058,"d":0.062},{"t":2018.1,"i":0.105,"d":0.05},{"t":2018.25,"i":0.058,"d":0.062},{"t":2018.4,"i":0.1,"d":0.05},{"t":2018.55,"i":0.06,"d":0.062},{"t":2018.7,"i":0.108,"d":0.05},{"t":2018.85,"i":0.075,"d":0.062}],
"SP_t":[{"t":2008.1,"ti":0.093,"td":0.06},{"t":2009,"ti":0.089,"td":0.062},{"t":2010,"ti":0.086,"td":0.063},{"t":2011,"ti":0.0854,"td":0.064},{"t":2012,"ti":0.084,"td":0.0646},{"t":2013,"ti":0.0806,"td":0.064},{"t":2014,"ti":0.072,"td":0.063},{"t":2015,"ti":0.0667,"td":0.062},{"t":2015.8,"ti":0.0646,"td":0.061},{"t":2016.5,"ti":0.065,"td":0.061},{"t":2017.5,"ti":0.07,"td":0.06},{"t":2018.9,"ti":0.075,"td":0.06}]
},
"concat":[
{"width":226,"height":161,"layer":[
 {"data":{"values":[{"c":"AT"}]},"mark":{"type":"rect","fill":"#d3d3d3","stroke":"#222","strokeWidth":1.3},"encoding":{"y":{"datum":0.271,"type":"quantitative","scale":{"domain":[-0.019,0.317],"nice":false,"zero":false},"axis":{"values":[0,0.05,0.1,0.15,0.2,0.25],"labelExpr":"replace(format(datum.value,'~g'),'0.','.')","labelAngle":270,"tickSize":3,"labelPadding":2,"title":null,"minExtent":18,"maxExtent":18}},"y2":{"datum":0.317}}},
 {"data":{"values":[{"c":"AT"}]},"mark":{"type":"text"},"encoding":{"y":{"datum":0.294,"type":"quantitative","scale":{"domain":[-0.019,0.317],"nice":false,"zero":false},"axis":{"values":[0,0.05,0.1,0.15,0.2,0.25],"labelExpr":"replace(format(datum.value,'~g'),'0.','.')","labelAngle":270,"tickSize":3,"labelPadding":2,"title":null,"minExtent":18,"maxExtent":18}},"text":{"field":"c"}}},
 {"data":{"name":"AT"},"transform":[{"fold":["i","d"],"as":["k","v"]}],"mark":{"type":"line","clip":true},"encoding":{"x":{"field":"t","type":"quantitative","scale":{"domain":[1999.13,2018.78],"nice":false,"zero":false},"axis":{"values":[2000,2002,2004,2006,2008,2010,2012,2014,2016,2018],"labelExpr":"format(round(datum.value)%100,'02d')","title":null,"tickSize":5,"labelPadding":3,"labelOverlap":false}},"y":{"field":"v","type":"quantitative","scale":{"domain":[-0.019,0.317],"nice":false,"zero":false},"axis":{"values":[0,0.05,0.1,0.15,0.2,0.25],"labelExpr":"replace(format(datum.value,'~g'),'0.','.')","labelAngle":270,"tickSize":3,"labelPadding":2,"title":null,"minExtent":18,"maxExtent":18}},"color":{"field":"k","type":"nominal","scale":{"domain":["i","d","ti","td"],"range":["#9a9a9a","#c8c8c8","#555555","#a3a3a3"]},"legend":{"title":null,"labelExpr":"datum.label=='i'?'Frequency of price increases':datum.label=='d'?'Frequency of price decreases':datum.label=='ti'?'Price increases - Trend':'Price decreases - Trend'"}},"strokeWidth":{"field":"k","type":"nominal","scale":{"type":"ordinal","domain":["i","d","ti","td"],"range":[1,1,2,2]},"legend":{"title":null,"labelExpr":"datum.label=='i'?'Frequency of price increases':datum.label=='d'?'Frequency of price decreases':datum.label=='ti'?'Price increases - Trend':'Price decreases - Trend'"}}}},
 {"data":{"name":"AT_t"},"transform":[{"fold":["ti","td"],"as":["k","v"]}],"mark":{"type":"line","clip":true,"interpolate":"monotone"},"encoding":{"x":{"field":"t","type":"quantitative","scale":{"domain":[1999.13,2018.78],"nice":false,"zero":false},"axis":{"values":[2000,2002,2004,2006,2008,2010,2012,2014,2016,2018],"labelExpr":"format(round(datum.value)%100,'02d')","title":null,"tickSize":5,"labelPadding":3,"labelOverlap":false}},"y":{"field":"v","type":"quantitative","scale":{"domain":[-0.019,0.317],"nice":false,"zero":false},"axis":{"values":[0,0.05,0.1,0.15,0.2,0.25],"labelExpr":"replace(format(datum.value,'~g'),'0.','.')","labelAngle":270,"tickSize":3,"labelPadding":2,"title":null,"minExtent":18,"maxExtent":18}},"color":{"field":"k","type":"nominal","scale":{"domain":["i","d","ti","td"],"range":["#9a9a9a","#c8c8c8","#555555","#a3a3a3"]}},"strokeWidth":{"field":"k","type":"nominal","scale":{"type":"ordinal","domain":["i","d","ti","td"],"range":[1,1,2,2]}}}}
]},
{"width":226,"height":161,"layer":[
 {"data":{"values":[{"c":"BE"}]},"mark":{"type":"rect","fill":"#d3d3d3","stroke":"#222","strokeWidth":1.3},"encoding":{"y":{"datum":0.271,"type":"quantitative","scale":{"domain":[-0.019,0.317],"nice":false,"zero":false},"axis":null},"y2":{"datum":0.317}}},
 {"data":{"values":[{"c":"BE"}]},"mark":{"type":"text"},"encoding":{"y":{"datum":0.294,"type":"quantitative","scale":{"domain":[-0.019,0.317],"nice":false,"zero":false},"axis":null},"text":{"field":"c"}}},
 {"data":{"name":"BE"},"transform":[{"fold":["i","d"],"as":["k","v"]}],"mark":{"type":"line","clip":true},"encoding":{"x":{"field":"t","type":"quantitative","scale":{"domain":[2005.51,2016.5],"nice":false,"zero":false},"axis":{"values":[2006,2008,2010,2012,2014,2016],"labelExpr":"format(round(datum.value)%100,'02d')","title":null,"tickSize":5,"labelPadding":3,"labelOverlap":false}},"y":{"field":"v","type":"quantitative","scale":{"domain":[-0.019,0.317],"nice":false,"zero":false},"axis":null},"color":{"field":"k","type":"nominal","scale":{"domain":["i","d","ti","td"],"range":["#9a9a9a","#c8c8c8","#555555","#a3a3a3"]}},"strokeWidth":{"field":"k","type":"nominal","scale":{"type":"ordinal","domain":["i","d","ti","td"],"range":[1,1,2,2]}}}},
 {"data":{"name":"BE_t"},"transform":[{"fold":["ti","td"],"as":["k","v"]}],"mark":{"type":"line","clip":true,"interpolate":"monotone"},"encoding":{"x":{"field":"t","type":"quantitative","scale":{"domain":[2005.51,2016.5],"nice":false,"zero":false},"axis":{"values":[2006,2008,2010,2012,2014,2016],"labelExpr":"format(round(datum.value)%100,'02d')","title":null,"tickSize":5,"labelPadding":3,"labelOverlap":false}},"y":{"field":"v","type":"quantitative","scale":{"domain":[-0.019,0.317],"nice":false,"zero":false},"axis":null},"color":{"field":"k","type":"nominal","scale":{"domain":["i","d","ti","td"],"range":["#9a9a9a","#c8c8c8","#555555","#a3a3a3"]}},"strokeWidth":{"field":"k","type":"nominal","scale":{"type":"ordinal","domain":["i","d","ti","td"],"range":[1,1,2,2]}}}}
]},
{"width":226,"height":161,"layer":[
 {"data":{"values":[{"c":"DE"}]},"mark":{"type":"rect","fill":"#d3d3d3","stroke":"#222","strokeWidth":1.3},"encoding":{"y":{"datum":0.271,"type":"quantitative","scale":{"domain":[-0.019,0.317],"nice":false,"zero":false},"axis":null},"y2":{"datum":0.317}}},
 {"data":{"values":[{"c":"DE"}]},"mark":{"type":"text"},"encoding":{"y":{"datum":0.294,"type":"quantitative","scale":{"domain":[-0.019,0.317],"nice":false,"zero":false},"axis":null},"text":{"field":"c"}}},
 {"data":{"name":"DE"},"transform":[{"fold":["i","d"],"as":["k","v"]}],"mark":{"type":"line","clip":true},"encoding":{"x":{"field":"t","type":"quantitative","scale":{"domain":[2009.51,2020.53],"nice":false,"zero":false},"axis":{"values":[2010,2012,2014,2016,2018,2020],"labelExpr":"format(round(datum.value)%100,'02d')","title":null,"tickSize":5,"labelPadding":3,"labelOverlap":false}},"y":{"field":"v","type":"quantitative","scale":{"domain":[-0.019,0.317],"nice":false,"zero":false},"axis":null},"color":{"field":"k","type":"nominal","scale":{"domain":["i","d","ti","td"],"range":["#9a9a9a","#c8c8c8","#555555","#a3a3a3"]}},"strokeWidth":{"field":"k","type":"nominal","scale":{"type":"ordinal","domain":["i","d","ti","td"],"range":[1,1,2,2]}}}},
 {"data":{"name":"DE_t"},"transform":[{"fold":["ti","td"],"as":["k","v"]}],"mark":{"type":"line","clip":true,"interpolate":"monotone"},"encoding":{"x":{"field":"t","type":"quantitative","scale":{"domain":[2009.51,2020.53],"nice":false,"zero":false},"axis":{"values":[2010,2012,2014,2016,2018,2020],"labelExpr":"format(round(datum.value)%100,'02d')","title":null,"tickSize":5,"labelPadding":3,"labelOverlap":false}},"y":{"field":"v","type":"quantitative","scale":{"domain":[-0.019,0.317],"nice":false,"zero":false},"axis":null},"color":{"field":"k","type":"nominal","scale":{"domain":["i","d","ti","td"],"range":["#9a9a9a","#c8c8c8","#555555","#a3a3a3"]}},"strokeWidth":{"field":"k","type":"nominal","scale":{"type":"ordinal","domain":["i","d","ti","td"],"range":[1,1,2,2]}}}}
]},
{"width":226,"height":161,"layer":[
 {"data":{"values":[{"c":"FR"}]},"mark":{"type":"rect","fill":"#d3d3d3","stroke":"#222","strokeWidth":1.3},"encoding":{"y":{"datum":0.271,"type":"quantitative","scale":{"domain":[-0.019,0.317],"nice":false,"zero":false},"axis":null},"y2":{"datum":0.317}}},
 {"data":{"values":[{"c":"FR"}]},"mark":{"type":"text"},"encoding":{"y":{"datum":0.294,"type":"quantitative","scale":{"domain":[-0.019,0.317],"nice":false,"zero":false},"axis":null},"text":{"field":"c"}}},
 {"data":{"name":"FR"},"transform":[{"fold":["i","d"],"as":["k","v"]}],"mark":{"type":"line","clip":true},"encoding":{"x":{"field":"t","type":"quantitative","scale":{"domain":[1993.35,2021.25],"nice":false,"zero":false},"axis":{"values":[1995,2000,2005,2010,2015,2020],"labelExpr":"format(round(datum.value)%100,'02d')","title":null,"tickSize":5,"labelPadding":3,"labelOverlap":false}},"y":{"field":"v","type":"quantitative","scale":{"domain":[-0.019,0.317],"nice":false,"zero":false},"axis":null},"color":{"field":"k","type":"nominal","scale":{"domain":["i","d","ti","td"],"range":["#9a9a9a","#c8c8c8","#555555","#a3a3a3"]}},"strokeWidth":{"field":"k","type":"nominal","scale":{"type":"ordinal","domain":["i","d","ti","td"],"range":[1,1,2,2]}}}},
 {"data":{"name":"FR_t"},"transform":[{"fold":["ti","td"],"as":["k","v"]}],"mark":{"type":"line","clip":true,"interpolate":"monotone"},"encoding":{"x":{"field":"t","type":"quantitative","scale":{"domain":[1993.35,2021.25],"nice":false,"zero":false},"axis":{"values":[1995,2000,2005,2010,2015,2020],"labelExpr":"format(round(datum.value)%100,'02d')","title":null,"tickSize":5,"labelPadding":3,"labelOverlap":false}},"y":{"field":"v","type":"quantitative","scale":{"domain":[-0.019,0.317],"nice":false,"zero":false},"axis":null},"color":{"field":"k","type":"nominal","scale":{"domain":["i","d","ti","td"],"range":["#9a9a9a","#c8c8c8","#555555","#a3a3a3"]}},"strokeWidth":{"field":"k","type":"nominal","scale":{"type":"ordinal","domain":["i","d","ti","td"],"range":[1,1,2,2]}}}}
]},
{"width":226,"height":161,"layer":[
 {"data":{"values":[{"c":"GR"}]},"mark":{"type":"rect","fill":"#d3d3d3","stroke":"#222","strokeWidth":1.3},"encoding":{"y":{"datum":0.271,"type":"quantitative","scale":{"domain":[-0.019,0.317],"nice":false,"zero":false},"axis":{"values":[0,0.05,0.1,0.15,0.2,0.25],"labelExpr":"replace(format(datum.value,'~g'),'0.','.')","labelAngle":270,"tickSize":3,"labelPadding":2,"title":null,"minExtent":18,"maxExtent":18}},"y2":{"datum":0.317}}},
 {"data":{"values":[{"c":"GR"}]},"mark":{"type":"text"},"encoding":{"y":{"datum":0.294,"type":"quantitative","scale":{"domain":[-0.019,0.317],"nice":false,"zero":false},"axis":{"values":[0,0.05,0.1,0.15,0.2,0.25],"labelExpr":"replace(format(datum.value,'~g'),'0.','.')","labelAngle":270,"tickSize":3,"labelPadding":2,"title":null,"minExtent":18,"maxExtent":18}},"text":{"field":"c"}}},
 {"data":{"name":"GR"},"transform":[{"fold":["i","d"],"as":["k","v"]}],"mark":{"type":"line","clip":true},"encoding":{"x":{"field":"t","type":"quantitative","scale":{"domain":[2001.13,2020.88],"nice":false,"zero":false},"axis":{"values":[2002,2004,2006,2008,2010,2012,2014,2016,2018,2020],"labelExpr":"format(round(datum.value)%100,'02d')","title":null,"tickSize":5,"labelPadding":3,"labelOverlap":false}},"y":{"field":"v","type":"quantitative","scale":{"domain":[-0.019,0.317],"nice":false,"zero":false},"axis":{"values":[0,0.05,0.1,0.15,0.2,0.25],"labelExpr":"replace(format(datum.value,'~g'),'0.','.')","labelAngle":270,"tickSize":3,"labelPadding":2,"title":null,"minExtent":18,"maxExtent":18}},"color":{"field":"k","type":"nominal","scale":{"domain":["i","d","ti","td"],"range":["#9a9a9a","#c8c8c8","#555555","#a3a3a3"]}},"strokeWidth":{"field":"k","type":"nominal","scale":{"type":"ordinal","domain":["i","d","ti","td"],"range":[1,1,2,2]}}}},
 {"data":{"name":"GR_t"},"transform":[{"fold":["ti","td"],"as":["k","v"]}],"mark":{"type":"line","clip":true,"interpolate":"monotone"},"encoding":{"x":{"field":"t","type":"quantitative","scale":{"domain":[2001.13,2020.88],"nice":false,"zero":false},"axis":{"values":[2002,2004,2006,2008,2010,2012,2014,2016,2018,2020],"labelExpr":"format(round(datum.value)%100,'02d')","title":null,"tickSize":5,"labelPadding":3,"labelOverlap":false}},"y":{"field":"v","type":"quantitative","scale":{"domain":[-0.019,0.317],"nice":false,"zero":false},"axis":{"values":[0,0.05,0.1,0.15,0.2,0.25],"labelExpr":"replace(format(datum.value,'~g'),'0.','.')","labelAngle":270,"tickSize":3,"labelPadding":2,"title":null,"minExtent":18,"maxExtent":18}},"color":{"field":"k","type":"nominal","scale":{"domain":["i","d","ti","td"],"range":["#9a9a9a","#c8c8c8","#555555","#a3a3a3"]}},"strokeWidth":{"field":"k","type":"nominal","scale":{"type":"ordinal","domain":["i","d","ti","td"],"range":[1,1,2,2]}}}}
]},
{"width":226,"height":161,"layer":[
 {"data":{"values":[{"c":"IT"}]},"mark":{"type":"rect","fill":"#d3d3d3","stroke":"#222","strokeWidth":1.3},"encoding":{"y":{"datum":0.271,"type":"quantitative","scale":{"domain":[-0.019,0.317],"nice":false,"zero":false},"axis":null},"y2":{"datum":0.317}}},
 {"data":{"values":[{"c":"IT"}]},"mark":{"type":"text"},"encoding":{"y":{"datum":0.294,"type":"quantitative","scale":{"domain":[-0.019,0.317],"nice":false,"zero":false},"axis":null},"text":{"field":"c"}}},
 {"data":{"name":"IT"},"transform":[{"fold":["i","d"],"as":["k","v"]}],"mark":{"type":"line","clip":true},"encoding":{"x":{"field":"t","type":"quantitative","scale":{"domain":[2010.64,2018.71],"nice":false,"zero":false},"axis":{"values":[2011,2012.4,2013.8,2015.2,2016.6,2018],"labelExpr":"format(round(datum.value)%100,'02d')","title":null,"tickSize":5,"labelPadding":3,"labelOverlap":false}},"y":{"field":"v","type":"quantitative","scale":{"domain":[-0.019,0.317],"nice":false,"zero":false},"axis":null},"color":{"field":"k","type":"nominal","scale":{"domain":["i","d","ti","td"],"range":["#9a9a9a","#c8c8c8","#555555","#a3a3a3"]}},"strokeWidth":{"field":"k","type":"nominal","scale":{"type":"ordinal","domain":["i","d","ti","td"],"range":[1,1,2,2]}}}},
 {"data":{"name":"IT_t"},"transform":[{"fold":["ti","td"],"as":["k","v"]}],"mark":{"type":"line","clip":true,"interpolate":"monotone"},"encoding":{"x":{"field":"t","type":"quantitative","scale":{"domain":[2010.64,2018.71],"nice":false,"zero":false},"axis":{"values":[2011,2012.4,2013.8,2015.2,2016.6,2018],"labelExpr":"format(round(datum.value)%100,'02d')","title":null,"tickSize":5,"labelPadding":3,"labelOverlap":false}},"y":{"field":"v","type":"quantitative","scale":{"domain":[-0.019,0.317],"nice":false,"zero":false},"axis":null},"color":{"field":"k","type":"nominal","scale":{"domain":["i","d","ti","td"],"range":["#9a9a9a","#c8c8c8","#555555","#a3a3a3"]}},"strokeWidth":{"field":"k","type":"nominal","scale":{"type":"ordinal","domain":["i","d","ti","td"],"range":[1,1,2,2]}}}}
]},
{"width":226,"height":161,"layer":[
 {"data":{"values":[{"c":"LT"}]},"mark":{"type":"rect","fill":"#d3d3d3","stroke":"#222","strokeWidth":1.3},"encoding":{"y":{"datum":0.271,"type":"quantitative","scale":{"domain":[-0.019,0.317],"nice":false,"zero":false},"axis":null},"y2":{"datum":0.317}}},
 {"data":{"values":[{"c":"LT"}]},"mark":{"type":"text"},"encoding":{"y":{"datum":0.294,"type":"quantitative","scale":{"domain":[-0.019,0.317],"nice":false,"zero":false},"axis":null},"text":{"field":"c"}}},
 {"data":{"name":"LT"},"transform":[{"fold":["i","d"],"as":["k","v"]}],"mark":{"type":"line","clip":true},"encoding":{"x":{"field":"t","type":"quantitative","scale":{"domain":[2009.56,2019.42],"nice":false,"zero":false},"axis":{"values":[2010,2012,2014,2016,2018],"labelExpr":"format(round(datum.value)%100,'02d')","title":null,"tickSize":5,"labelPadding":3,"labelOverlap":false}},"y":{"field":"v","type":"quantitative","scale":{"domain":[-0.019,0.317],"nice":false,"zero":false},"axis":null},"color":{"field":"k","type":"nominal","scale":{"domain":["i","d","ti","td"],"range":["#9a9a9a","#c8c8c8","#555555","#a3a3a3"]}},"strokeWidth":{"field":"k","type":"nominal","scale":{"type":"ordinal","domain":["i","d","ti","td"],"range":[1,1,2,2]}}}},
 {"data":{"name":"LT_t"},"transform":[{"fold":["ti","td"],"as":["k","v"]}],"mark":{"type":"line","clip":true,"interpolate":"monotone"},"encoding":{"x":{"field":"t","type":"quantitative","scale":{"domain":[2009.56,2019.42],"nice":false,"zero":false},"axis":{"values":[2010,2012,2014,2016,2018],"labelExpr":"format(round(datum.value)%100,'02d')","title":null,"tickSize":5,"labelPadding":3,"labelOverlap":false}},"y":{"field":"v","type":"quantitative","scale":{"domain":[-0.019,0.317],"nice":false,"zero":false},"axis":null},"color":{"field":"k","type":"nominal","scale":{"domain":["i","d","ti","td"],"range":["#9a9a9a","#c8c8c8","#555555","#a3a3a3"]}},"strokeWidth":{"field":"k","type":"nominal","scale":{"type":"ordinal","domain":["i","d","ti","td"],"range":[1,1,2,2]}}}}
]},
{"width":226,"height":161,"layer":[
 {"data":{"values":[{"c":"LU"}]},"mark":{"type":"rect","fill":"#d3d3d3","stroke":"#222","strokeWidth":1.3},"encoding":{"y":{"datum":0.271,"type":"quantitative","scale":{"domain":[-0.019,0.317],"nice":false,"zero":false},"axis":null},"y2":{"datum":0.317}}},
 {"data":{"values":[{"c":"LU"}]},"mark":{"type":"text"},"encoding":{"y":{"datum":0.294,"type":"quantitative","scale":{"domain":[-0.019,0.317],"nice":false,"zero":false},"axis":null},"text":{"field":"c"}}},
 {"data":{"name":"LU"},"transform":[{"fold":["i","d"],"as":["k","v"]}],"mark":{"type":"line","clip":true},"encoding":{"x":{"field":"t","type":"quantitative","scale":{"domain":[2003.36,2018.65],"nice":false,"zero":false},"axis":{"values":[2004,2006,2008,2010,2012,2014,2016,2018],"labelExpr":"format(round(datum.value)%100,'02d')","title":null,"tickSize":5,"labelPadding":3,"labelOverlap":false}},"y":{"field":"v","type":"quantitative","scale":{"domain":[-0.019,0.317],"nice":false,"zero":false},"axis":null},"color":{"field":"k","type":"nominal","scale":{"domain":["i","d","ti","td"],"range":["#9a9a9a","#c8c8c8","#555555","#a3a3a3"]}},"strokeWidth":{"field":"k","type":"nominal","scale":{"type":"ordinal","domain":["i","d","ti","td"],"range":[1,1,2,2]}}}},
 {"data":{"name":"LU_t"},"transform":[{"fold":["ti","td"],"as":["k","v"]}],"mark":{"type":"line","clip":true,"interpolate":"monotone"},"encoding":{"x":{"field":"t","type":"quantitative","scale":{"domain":[2003.36,2018.65],"nice":false,"zero":false},"axis":{"values":[2004,2006,2008,2010,2012,2014,2016,2018],"labelExpr":"format(round(datum.value)%100,'02d')","title":null,"tickSize":5,"labelPadding":3,"labelOverlap":false}},"y":{"field":"v","type":"quantitative","scale":{"domain":[-0.019,0.317],"nice":false,"zero":false},"axis":null},"color":{"field":"k","type":"nominal","scale":{"domain":["i","d","ti","td"],"range":["#9a9a9a","#c8c8c8","#555555","#a3a3a3"]}},"strokeWidth":{"field":"k","type":"nominal","scale":{"type":"ordinal","domain":["i","d","ti","td"],"range":[1,1,2,2]}}}}
]},
{"width":226,"height":161,"layer":[
 {"data":{"values":[{"c":"LV"}]},"mark":{"type":"rect","fill":"#d3d3d3","stroke":"#222","strokeWidth":1.3},"encoding":{"y":{"datum":0.271,"type":"quantitative","scale":{"domain":[-0.019,0.317],"nice":false,"zero":false},"axis":{"values":[0,0.05,0.1,0.15,0.2,0.25],"labelExpr":"replace(format(datum.value,'~g'),'0.','.')","labelAngle":270,"tickSize":3,"labelPadding":2,"title":null,"minExtent":18,"maxExtent":18}},"y2":{"datum":0.317}}},
 {"data":{"values":[{"c":"LV"}]},"mark":{"type":"text"},"encoding":{"y":{"datum":0.294,"type":"quantitative","scale":{"domain":[-0.019,0.317],"nice":false,"zero":false},"axis":{"values":[0,0.05,0.1,0.15,0.2,0.25],"labelExpr":"replace(format(datum.value,'~g'),'0.','.')","labelAngle":270,"tickSize":3,"labelPadding":2,"title":null,"minExtent":18,"maxExtent":18}},"text":{"field":"c"}}},
 {"data":{"name":"LV"},"transform":[{"fold":["i","d"],"as":["k","v"]}],"mark":{"type":"line","clip":true},"encoding":{"x":{"field":"t","type":"quantitative","scale":{"domain":[2016.855,2020.135],"nice":false,"zero":false},"axis":{"values":[2017,2018,2019,2020],"labelExpr":"format(round(datum.value)%100,'02d')","title":null,"tickSize":5,"labelPadding":3,"labelOverlap":false}},"y":{"field":"v","type":"quantitative","scale":{"domain":[-0.019,0.317],"nice":false,"zero":false},"axis":{"values":[0,0.05,0.1,0.15,0.2,0.25],"labelExpr":"replace(format(datum.value,'~g'),'0.','.')","labelAngle":270,"tickSize":3,"labelPadding":2,"title":null,"minExtent":18,"maxExtent":18}},"color":{"field":"k","type":"nominal","scale":{"domain":["i","d","ti","td"],"range":["#9a9a9a","#c8c8c8","#555555","#a3a3a3"]}},"strokeWidth":{"field":"k","type":"nominal","scale":{"type":"ordinal","domain":["i","d","ti","td"],"range":[1,1,2,2]}}}},
 {"data":{"name":"LV_t"},"transform":[{"fold":["ti","td"],"as":["k","v"]}],"mark":{"type":"line","clip":true,"interpolate":"monotone"},"encoding":{"x":{"field":"t","type":"quantitative","scale":{"domain":[2016.855,2020.135],"nice":false,"zero":false},"axis":{"values":[2017,2018,2019,2020],"labelExpr":"format(round(datum.value)%100,'02d')","title":null,"tickSize":5,"labelPadding":3,"labelOverlap":false}},"y":{"field":"v","type":"quantitative","scale":{"domain":[-0.019,0.317],"nice":false,"zero":false},"axis":{"values":[0,0.05,0.1,0.15,0.2,0.25],"labelExpr":"replace(format(datum.value,'~g'),'0.','.')","labelAngle":270,"tickSize":3,"labelPadding":2,"title":null,"minExtent":18,"maxExtent":18}},"color":{"field":"k","type":"nominal","scale":{"domain":["i","d","ti","td"],"range":["#9a9a9a","#c8c8c8","#555555","#a3a3a3"]}},"strokeWidth":{"field":"k","type":"nominal","scale":{"type":"ordinal","domain":["i","d","ti","td"],"range":[1,1,2,2]}}}}
]},
{"width":226,"height":161,"layer":[
 {"data":{"values":[{"c":"SK"}]},"mark":{"type":"rect","fill":"#d3d3d3","stroke":"#222","strokeWidth":1.3},"encoding":{"y":{"datum":0.271,"type":"quantitative","scale":{"domain":[-0.019,0.317],"nice":false,"zero":false},"axis":null},"y2":{"datum":0.317}}},
 {"data":{"values":[{"c":"SK"}]},"mark":{"type":"text"},"encoding":{"y":{"datum":0.294,"type":"quantitative","scale":{"domain":[-0.019,0.317],"nice":false,"zero":false},"axis":null},"text":{"field":"c"}}},
 {"data":{"name":"SK"},"transform":[{"fold":["i","d"],"as":["k","v"]}],"mark":{"type":"line","clip":true},"encoding":{"x":{"field":"t","type":"quantitative","scale":{"domain":[2009.51,2020.5],"nice":false,"zero":false},"axis":{"values":[2010,2012,2014,2016,2018,2020],"labelExpr":"format(round(datum.value)%100,'02d')","title":null,"tickSize":5,"labelPadding":3,"labelOverlap":false}},"y":{"field":"v","type":"quantitative","scale":{"domain":[-0.019,0.317],"nice":false,"zero":false},"axis":null},"color":{"field":"k","type":"nominal","scale":{"domain":["i","d","ti","td"],"range":["#9a9a9a","#c8c8c8","#555555","#a3a3a3"]}},"strokeWidth":{"field":"k","type":"nominal","scale":{"type":"ordinal","domain":["i","d","ti","td"],"range":[1,1,2,2]}}}},
 {"data":{"name":"SK_t"},"transform":[{"fold":["ti","td"],"as":["k","v"]}],"mark":{"type":"line","clip":true,"interpolate":"monotone"},"encoding":{"x":{"field":"t","type":"quantitative","scale":{"domain":[2009.51,2020.5],"nice":false,"zero":false},"axis":{"values":[2010,2012,2014,2016,2018,2020],"labelExpr":"format(round(datum.value)%100,'02d')","title":null,"tickSize":5,"labelPadding":3,"labelOverlap":false}},"y":{"field":"v","type":"quantitative","scale":{"domain":[-0.019,0.317],"nice":false,"zero":false},"axis":null},"color":{"field":"k","type":"nominal","scale":{"domain":["i","d","ti","td"],"range":["#9a9a9a","#c8c8c8","#555555","#a3a3a3"]}},"strokeWidth":{"field":"k","type":"nominal","scale":{"type":"ordinal","domain":["i","d","ti","td"],"range":[1,1,2,2]}}}}
]},
{"width":226,"height":161,"layer":[
 {"data":{"values":[{"c":"SP"}]},"mark":{"type":"rect","fill":"#d3d3d3","stroke":"#222","strokeWidth":1.3},"encoding":{"y":{"datum":0.271,"type":"quantitative","scale":{"domain":[-0.019,0.317],"nice":false,"zero":false},"axis":null},"y2":{"datum":0.317}}},
 {"data":{"values":[{"c":"SP"}]},"mark":{"type":"text"},"encoding":{"y":{"datum":0.294,"type":"quantitative","scale":{"domain":[-0.019,0.317],"nice":false,"zero":false},"axis":null},"text":{"field":"c"}}},
 {"data":{"name":"SP"},"transform":[{"fold":["i","d"],"as":["k","v"]}],"mark":{"type":"line","clip":true},"encoding":{"x":{"field":"t","type":"quantitative","scale":{"domain":[2007.48,2019.34],"nice":false,"zero":false},"axis":{"values":[2008,2010,2012,2014,2016,2018],"labelExpr":"format(round(datum.value)%100,'02d')","title":null,"tickSize":5,"labelPadding":3,"labelOverlap":false}},"y":{"field":"v","type":"quantitative","scale":{"domain":[-0.019,0.317],"nice":false,"zero":false},"axis":null},"color":{"field":"k","type":"nominal","scale":{"domain":["i","d","ti","td"],"range":["#9a9a9a","#c8c8c8","#555555","#a3a3a3"]}},"strokeWidth":{"field":"k","type":"nominal","scale":{"type":"ordinal","domain":["i","d","ti","td"],"range":[1,1,2,2]}}}},
 {"data":{"name":"SP_t"},"transform":[{"fold":["ti","td"],"as":["k","v"]}],"mark":{"type":"line","clip":true,"interpolate":"monotone"},"encoding":{"x":{"field":"t","type":"quantitative","scale":{"domain":[2007.48,2019.34],"nice":false,"zero":false},"axis":{"values":[2008,2010,2012,2014,2016,2018],"labelExpr":"format(round(datum.value)%100,'02d')","title":null,"tickSize":5,"labelPadding":3,"labelOverlap":false}},"y":{"field":"v","type":"quantitative","scale":{"domain":[-0.019,0.317],"nice":false,"zero":false},"axis":null},"color":{"field":"k","type":"nominal","scale":{"domain":["i","d","ti","td"],"range":["#9a9a9a","#c8c8c8","#555555","#a3a3a3"]}},"strokeWidth":{"field":"k","type":"nominal","scale":{"type":"ordinal","domain":["i","d","ti","td"],"range":[1,1,2,2]}}}}
]}
]
}
